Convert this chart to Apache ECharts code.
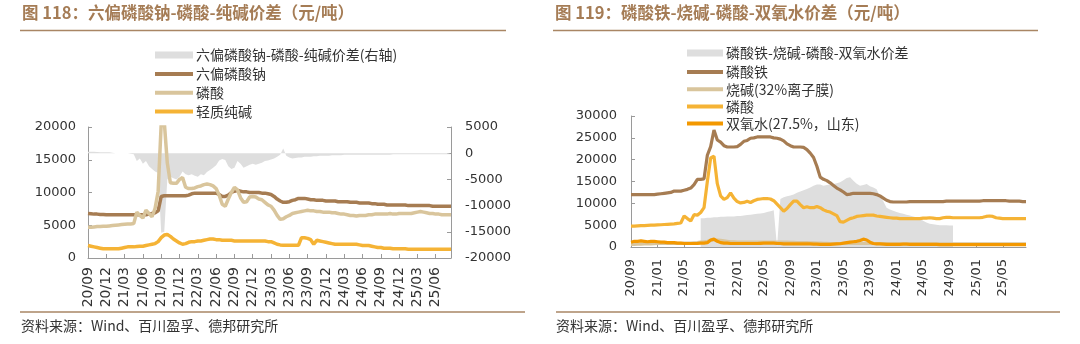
<!DOCTYPE html>
<html><head><meta charset="utf-8">
<script src="https://cdn.jsdelivr.net/npm/echarts@6/dist/echarts.min.js"></script>
<style>
html,body{margin:0;padding:0;background:#fff;}
#wrap{position:relative;width:1080px;height:344px;}
#cl{position:absolute;left:0;top:0;width:540px;height:344px;}
#cr{position:absolute;left:540px;top:0;width:540px;height:344px;}
</style>
</head><body><div id="wrap"><div id="cl"></div><div id="cr"></div></div>
<script>
// ---- categories (half-month steps, 2020/09 .. 2025/08) ----
const categories = [];
for (let k = 0; k < 60; k++) {
  const y = 2020 + Math.floor((8 + k) / 12), m = (8 + k) % 12 + 1;
  const lab = String(y % 100).padStart(2, '0') + '/' + String(m).padStart(2, '0');
  categories.push(lab + '|1', lab + '|2');
}
const leftTicks = ['20/09','20/12','21/03','21/06','21/09','21/12','22/03','22/06','22/09','22/12','23/03','23/06','23/09','23/12','24/03','24/06','24/09','24/12','25/03','25/06'];
const rightTicks = ['20/09','21/01','21/05','21/09','22/01','22/05','22/09','23/01','23/05','23/09','24/01','24/05','24/09','25/01','25/05'];

// ---- left chart values ----
const leftSpread = [
 300,300,300,250,200,200,200,200,100,0,
 0,0,0,0,-100,-200,-1500,-1000,-2000,-1500,
 -2500,-3000,-3500,-3800,-15200,-15000,-5000,-4500,-4800,-5000,
 -4500,-3500,-4000,-4200,-4000,-4300,-4500,-4000,-4200,-3600,
 -3200,-2800,-2300,-1400,-1100,-1300,-2500,-3000,-2800,-1500,
 -2000,-2800,-2500,-2200,-2000,-2200,-2000,-1800,-1500,-1400,
 -1200,-1000,-700,-300,900,-500,-800,-1000,-900,-800,
 -800,-700,-700,-700,-600,-600,-500,-500,-500,-500,
 -400,-400,-400,-400,-300,-300,-300,-300,-300,-300,
 -300,-300,-300,-300,-300,-300,-300,-300,-300,-300,
 -200,-200,-200,-200,-200,-200,-200,-200,-200,-200,
 -200,-200,-200,-200,-200,-200,-200,-200,-200,-200];
const leftSHMP = [
 6800,6750,6700,6700,6650,6650,6600,6600,6600,6600,
 6600,6600,6600,6600,6600,6600,6600,6600,6600,6600,
 6700,6800,6900,7200,9400,9500,9500,9500,9500,9500,
 9500,9500,9500,9600,9800,9900,9900,9900,9900,9900,
 9900,9900,9900,9700,9400,9400,9600,10000,10200,10300,
 10200,10100,10100,10000,10000,10000,10000,9900,9900,9800,
 9700,9400,9000,8700,8500,8500,8600,8800,8900,9100,
 9100,9100,9000,8900,8900,8800,8800,8800,8700,8700,
 8700,8700,8600,8600,8600,8600,8500,8500,8500,8400,
 8400,8400,8400,8300,8300,8200,8200,8200,8100,8100,
 8100,8100,8100,8100,8100,8000,8000,8000,8000,8000,
 8000,8000,8000,7900,7900,7900,7900,7900,7900,7900];
const leftPhos = [
 4700,4700,4750,4800,4800,4850,4850,4900,4950,5000,
 5050,5100,5150,5200,5200,5250,7000,6500,6100,7300,
 6800,6300,7600,10200,20500,20800,14500,11500,11400,11400,
 12000,12300,10800,10600,10600,10700,10900,11000,11200,11300,
 11200,11000,10600,9600,8200,7900,9000,10000,10800,10400,
 9200,8500,8600,9300,9400,9300,9000,8900,8500,8100,
 7900,7300,6500,5900,6000,6300,6500,6800,6900,7000,
 7100,7200,7300,7200,7200,7100,7100,7000,7000,7000,
 6900,6900,6800,6700,6700,6600,6500,6500,6400,6500,
 6500,6500,6600,6600,6700,6700,6700,6700,6700,6800,
 6700,6700,6800,6800,6800,6800,6800,6900,7000,7100,
 7000,6900,6800,6800,6700,6700,6600,6600,6600,6600];
const leftSoda = [
 1900,1800,1700,1600,1500,1400,1400,1400,1400,1400,
 1400,1500,1600,1700,1700,1700,1750,1800,1800,1900,
 2000,2100,2200,2500,3100,3500,3600,3300,2900,2600,
 2300,2100,2200,2400,2500,2500,2600,2600,2700,2800,
 2900,2900,2800,2800,2700,2700,2700,2700,2600,2600,
 2600,2600,2600,2600,2600,2600,2600,2600,2600,2500,
 2500,2300,2100,2000,1950,1950,1950,1950,1950,1950,
 3100,3100,3000,2800,2100,2700,2600,2500,2400,2300,
 2200,2100,2100,2100,2100,2100,2100,2100,2100,2000,
 1900,1900,1900,1800,1700,1600,1600,1500,1500,1500,
 1400,1400,1400,1400,1400,1350,1350,1350,1350,1350,
 1350,1350,1350,1350,1350,1350,1350,1350,1350,1350];

// ---- right chart values ----
const rightSpread = [
 null,null,null,null,null,null,null,null,null,null,
 null,null,null,null,null,null,null,null,null,null,
 null,6600,6600,6700,6700,6800,6800,6900,6900,7000,
 7000,7000,7100,7100,7200,7300,7400,7500,7600,7700,
 7800,8000,8200,8400,0,11000,11400,11600,11800,12000,
 12400,12700,13000,13300,13600,14000,14300,14300,14000,14200,
 14300,14400,14600,14800,15300,15800,16000,15200,14500,14000,
 14200,14400,13900,13600,13200,11500,10500,9000,8600,8300,
 8000,7800,7600,7400,7200,7000,6800,6500,6000,5600,
 5300,5200,5100,5000,5000,5000,4900,4900,null,null,
 null,null,null,null,null,null,null,null,null,null,
 null,null,null,null,null,null,null,null,null,null];
const rightLFP = [
 12000,12000,12000,12000,12000,12000,12000,12000,12100,12200,
 12300,12400,12500,12800,12800,12800,13000,13200,13500,14300,
 15500,15500,15600,21000,23000,26800,24500,24000,23200,22900,
 22900,22900,23000,23500,24200,24400,24900,25000,25200,25200,
 25200,25200,25200,25000,24900,24700,24300,23600,23200,22900,
 22900,22900,22800,22300,21500,20500,18500,16000,15500,15200,
 14700,14100,13500,13100,12600,12000,12100,12300,12300,12300,
 12300,12300,12300,12200,12000,11700,11200,10700,10400,10300,
 10300,10300,10300,10300,10400,10400,10400,10400,10400,10400,
 10400,10400,10400,10400,10400,10500,10500,10500,10500,10500,
 10500,10500,10500,10500,10500,10500,10600,10600,10600,10600,
 10600,10600,10600,10600,10500,10500,10500,10500,10400,10400];
const rightCaustic = [
 600,600,650,650,700,700,700,750,800,800,
 800,800,850,850,850,850,900,900,900,950,
 1000,1100,1200,1300,1500,1600,1600,1500,1400,1300,
 1200,1200,1100,1100,1100,1100,1100,1100,1100,1100,
 1100,1100,1100,1100,1100,1100,1100,1100,1050,1050,
 1000,1000,1000,1000,950,950,900,900,850,850,
 800,800,800,800,800,800,800,800,800,800,
 800,800,800,800,800,800,800,800,750,750,
 750,750,750,750,750,750,750,750,750,750,
 750,750,700,700,700,700,700,700,700,700,
 700,700,700,700,700,700,700,700,700,700,
 700,700,700,700,700,700,700,700,700,700];
const rightPhos = [
 4800,4800,4850,4900,4900,4950,5000,5000,5050,5100,
 5150,5200,5250,5300,5400,5500,7100,6500,5950,7400,
 7300,7900,9000,15000,20400,20800,14500,11700,10900,11300,
 12400,11200,10400,10100,10200,10500,10200,10600,10900,11000,
 11100,11100,11000,10600,9800,9000,8200,8800,9700,10500,
 10500,9700,9000,9200,9000,9000,9300,9000,8500,8200,
 8000,7600,7200,5800,5700,6100,6500,6700,7000,7100,
 7200,7300,7300,7300,7100,7000,6900,6800,6700,6600,
 6600,6500,6500,6500,6500,6500,6500,6500,6600,6600,
 6700,6600,6500,6500,6700,6800,6800,6700,6700,6700,
 6700,6700,6700,6700,6700,6700,6800,7000,7100,7000,
 6700,6600,6500,6500,6500,6500,6500,6500,6500,6500];
const rightH2O2 = [
 1100,1300,1300,1400,1300,1200,1300,1300,1200,1100,
 1100,1000,1000,1000,900,900,800,800,800,800,
 800,900,900,1000,1600,1800,1300,1000,900,900,
 800,800,800,800,800,800,800,800,800,850,
 900,900,900,900,800,800,700,700,700,700,
 700,700,700,700,700,650,650,600,600,600,
 600,650,700,750,900,1000,1100,1200,1300,1500,
 1800,1600,1100,800,700,700,650,600,600,600,
 600,600,650,650,600,600,600,600,600,600,
 600,600,600,550,550,550,550,550,550,550,
 550,550,550,550,550,550,550,550,550,550,
 550,550,550,550,550,550,550,550,550,550];

const AX = '#9a9a9a', LBL = '#333333', NUMF = 'DejaVu Sans', CJK = 'Noto Sans CJK SC';
const BROWN = '#a67c52', TAN = '#d9c59c', YEL = '#f5b335', ORG = '#f39800', GRAY = '#dedede';
const TITLEC = '#a57c55', RULEC = '#a98664';

function tickFn(ticks) {
  return (idx, val) => val.endsWith('|1') && ticks.indexOf(val.slice(0, 5)) >= 0;
}
function xAxis(ticks, fs, margin) {
  return {
    type: 'category', data: categories, boundaryGap: false,
    axisLine: { lineStyle: { color: AX, width: 1 } },
    axisTick: { show: true, inside: true, length: 4, interval: tickFn(ticks), lineStyle: { color: AX } },
    axisLabel: { interval: tickFn(ticks), rotate: 90, margin: margin, color: LBL, fontFamily: NUMF, fontSize: fs,
      hideOverlap: false, formatter: v => v.slice(0, 5) },
    splitLine: { show: false }
  };
}
function yAxis(min, max, pos, margin) {
  return {
    type: 'value', min: min, max: max, interval: 5000, position: pos,
    axisLine: { show: true, lineStyle: { color: AX, width: 1 } },
    axisTick: { show: true, inside: true, length: 4, lineStyle: { color: AX } },
    axisLabel: { color: LBL, fontFamily: NUMF, fontSize: 13, margin: margin, formatter: v => String(v) },
    splitLine: { show: false }
  };
}
function lineSeries(name, data, color, w, yIdx) {
  return { name: name, type: 'line', data: data, yAxisIndex: yIdx || 0, symbol: 'none', showSymbol: false,
    color: color, lineStyle: { color: color, width: w }, itemStyle: { color: color, borderWidth: 0 }, z: 3 };
}
function areaSeries(name, data, yIdx) {
  return { name: name, type: 'line', data: data, yAxisIndex: yIdx || 0, symbol: 'none', showSymbol: false,
    color: GRAY, lineStyle: { width: 0, color: GRAY }, itemStyle: { color: GRAY, borderWidth: 0 },
    areaStyle: { color: GRAY, opacity: 1 }, z: 1 };
}
function legend(left, top, names, iw, ih, gap) {
  return { orient: 'vertical', left: left, top: top, itemWidth: iw, itemHeight: ih, itemGap: gap, icon: 'rect',
    data: names, padding: 0, selectedMode: false,
    itemStyle: { borderWidth: 0 },
    textStyle: { color: LBL, fontFamily: CJK, fontSize: 14, padding: [0, 0, 0, -2] } };
}
function decor(titleText, tx, rule1, rule2, srcX) {
  return [
    { type: 'text', left: tx, top: 4, style: { text: titleText, fill: TITLEC, font: 'bold 16.5px "Noto Sans CJK SC"' } },
    { type: 'line', shape: { x1: rule1[0], y1: 30.5, x2: rule1[1], y2: 30.5 }, style: { stroke: RULEC, lineWidth: 1.6 } },
    { type: 'line', shape: { x1: rule2[0], y1: 312, x2: rule2[1], y2: 312 }, style: { stroke: RULEC, lineWidth: 1.6 } },
    { type: 'text', left: srcX, top: 319, style: { text: '资料来源：Wind、百川盈孚、德邦研究所', fill: LBL, font: '14px "Noto Sans CJK SC"' } }
  ];
}

const leftNames = ['六偏磷酸钠-磷酸-纯碱价差(右轴)', '六偏磷酸钠', '磷酸', '轻质纯碱'];
const chartL = echarts.init(document.getElementById('cl'), null, { renderer: 'canvas' });
chartL.setOption({
  animation: false, backgroundColor: '#fff',
  grid: { left: 88, top: 127, width: 363, height: 131, containLabel: false, outerBoundsMode: 'none' },
  legend: [legend(155, 48, [leftNames[0]], 38, 7, 5), legend(155, 67, leftNames.slice(1), 38, 4, 4.7)],
  xAxis: xAxis(leftTicks, 14, 9),
  yAxis: [yAxis(0, 20000, 'left', 12), yAxis(-20000, 5000, 'right', 14)],
  series: [
    areaSeries(leftNames[0], leftSpread, 1),
    lineSeries(leftNames[1], leftSHMP, BROWN, 3.5),
    lineSeries(leftNames[2], leftPhos, TAN, 3.5),
    lineSeries(leftNames[3], leftSoda, YEL, 3.5)
  ],
  graphic: decor('图 118：六偏磷酸钠-磷酸-纯碱价差（元/吨）', 22, [20, 506], [20, 525], 21)
});

const rightNames = ['磷酸铁-烧碱-磷酸-双氧水价差', '磷酸铁', '烧碱(32%离子膜)', '磷酸', '双氧水(27.5%，山东)'];
const chartR = echarts.init(document.getElementById('cr'), null, { renderer: 'canvas' });
chartR.setOption({
  animation: false, backgroundColor: '#fff',
  grid: { left: 91, top: 116, width: 395, height: 131, containLabel: false, outerBoundsMode: 'none' },
  legend: [legend(147, 46, [rightNames[0]], 36, 7, 5), legend(147, 65, rightNames.slice(1), 36, 4, 3.2)],
  xAxis: xAxis(rightTicks, 13, 12),
  yAxis: [yAxis(0, 30000, 'left', 14)],
  series: [
    areaSeries(rightNames[0], rightSpread, 0),
    lineSeries(rightNames[1], rightLFP, BROWN, 3.2),
    lineSeries(rightNames[2], rightCaustic, TAN, 3.2),
    lineSeries(rightNames[3], rightPhos, YEL, 3.2),
    lineSeries(rightNames[4], rightH2O2, ORG, 3.2)
  ],
  graphic: decor('图 119：磷酸铁-烧碱-磷酸-双氧水价差（元/吨）', 15, [13, 498], [16, 520], 16)
});
</script></body></html>
